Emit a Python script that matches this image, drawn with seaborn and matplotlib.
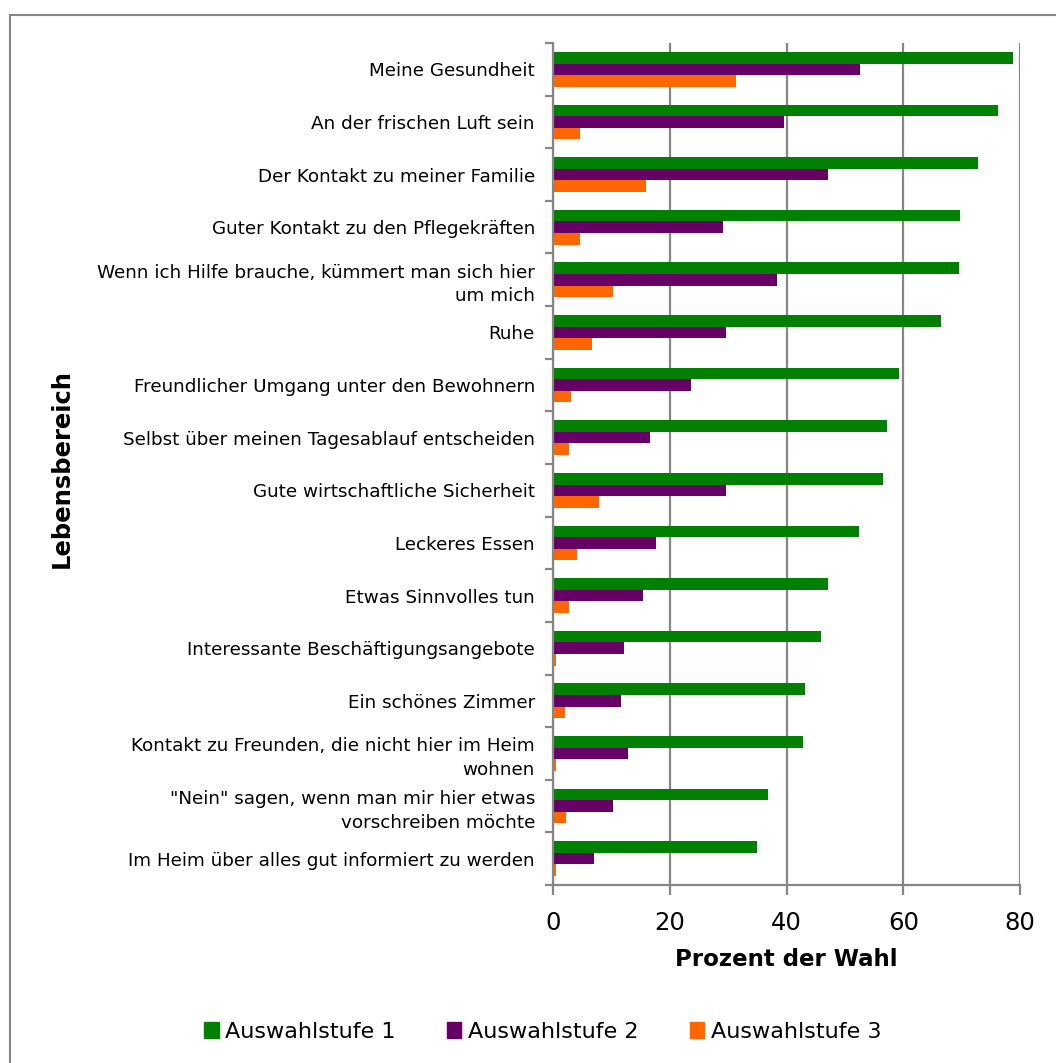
import pandas as pd
import matplotlib.pyplot as plt
import seaborn as sns
from matplotlib.patches import Rectangle
from matplotlib.ticker import FixedLocator

# Lebensbereiche (von oben nach unten)
bereiche = [
    'Meine Gesundheit',
    'An der frischen Luft sein',
    'Der Kontakt zu meiner Familie',
    'Guter Kontakt zu den Pflegekräften',
    'Wenn ich Hilfe brauche, kümmert man sich hier\num mich',
    'Ruhe',
    'Freundlicher Umgang unter den Bewohnern',
    'Selbst über meinen Tagesablauf entscheiden',
    'Gute wirtschaftliche Sicherheit',
    'Leckeres Essen',
    'Etwas Sinnvolles tun',
    'Interessante Beschäftigungsangebote',
    'Ein schönes Zimmer',
    'Kontakt zu Freunden, die nicht hier im Heim\nwohnen',
    '"Nein" sagen, wenn man mir hier etwas\nvorschreiben möchte',
    'Im Heim über alles gut informiert zu werden',
]
stufe1 = [78.8, 76.3, 72.8, 69.8, 69.5, 66.5, 59.2, 57.2, 56.6, 52.4, 47.1, 45.9, 43.1, 42.8, 36.8, 35.0]
stufe2 = [52.6, 39.6, 47.1, 29.2, 38.3, 29.7, 23.7, 16.7, 29.7, 17.6, 15.4, 12.1, 11.6, 12.8, 10.3, 7.1]
stufe3 = [31.4, 4.7, 15.9, 4.7, 10.3, 6.6, 3.0, 2.8, 7.8, 4.1, 2.8, 0.5, 2.0, 0.5, 2.2, 0.5]
stufen = ['Auswahlstufe 1', 'Auswahlstufe 2', 'Auswahlstufe 3']
farben = ['#008000', '#660066', '#FF6600']

df = pd.DataFrame({
    'Lebensbereich': bereiche * 3,
    'Prozent': stufe1 + stufe2 + stufe3,
    'Stufe': [s for s in stufen for _ in bereiche],
})

sns.set_theme(style='white')
plt.rcParams['font.family'] = ['DejaVu Sans']
plt.rcParams['text.color'] = 'black'
plt.rcParams['xtick.color'] = 'black'
plt.rcParams['ytick.color'] = 'black'
plt.rcParams['axes.labelcolor'] = 'black'
grau = '#868686'

fig = plt.figure(figsize=(10.56, 10.63), dpi=100)
ax = fig.add_axes([553 / 1056, 1 - 885 / 1063, 467 / 1056, 842 / 1063])

sns.barplot(data=df, x='Prozent', y='Lebensbereich', hue='Stufe', order=bereiche,
            hue_order=stufen, palette=farben, orient='h', width=0.66,
            saturation=1, errorbar=None, ax=ax, linewidth=0)

ax.set_xlim(0, 80)
ax.set_xticks([0, 20, 40, 60, 80])
ax.xaxis.grid(True, color=grau, linewidth=1.6)
ax.set_axisbelow(True)
for side in ['top', 'right']:
    ax.spines[side].set_visible(False)
for side in ['left', 'bottom']:
    ax.spines[side].set_color(grau)
    ax.spines[side].set_linewidth(1.6)

ax.tick_params(axis='x', which='major', bottom=True, length=7, width=1.6, color=grau,
               labelsize=17.5, pad=12, labelcolor='black')
ax.tick_params(axis='y', which='major', left=False, labelsize=13.2, pad=7,
               labelcolor='black')
ax.yaxis.set_minor_locator(FixedLocator([i - 0.5 for i in range(len(bereiche) + 1)]))
ax.tick_params(axis='y', which='minor', left=True, length=6, width=1.6, color=grau)
for lbl in ax.get_yticklabels():
    lbl.set_linespacing(1.4)

ax.set_xlabel('Prozent der Wahl', fontsize=16.5, fontweight='bold', labelpad=9,
              color='black')
ax.set_ylabel('')
fig.text(62 / 1056, 1 - 469 / 1063, 'Lebensbereich', rotation=90, fontsize=17.5,
         fontweight='bold', ha='center', va='center', color='black')

ax.legend_.remove()
handles = [Rectangle((0, 0), 1, 1, color=c) for c in farben]
fig.legend(handles, stufen, loc='center', bbox_to_anchor=(0.514, 1 - 1032 / 1063),
           ncol=3, frameon=False, fontsize=16, handlelength=0.65, handleheight=0.7,
           handletextpad=0.3, columnspacing=2.3, labelcolor='black')

# Rahmen: links und oben sichtbar, rechts/unten außerhalb des Bildes
fig.patches.append(Rectangle((10 / 1056, -0.01), 1.05, 1 - 15 / 1063 + 0.01,
                             transform=fig.transFigure, fill=False, edgecolor=grau,
                             linewidth=1.5))

fig.savefig('out.png', dpi=100)
